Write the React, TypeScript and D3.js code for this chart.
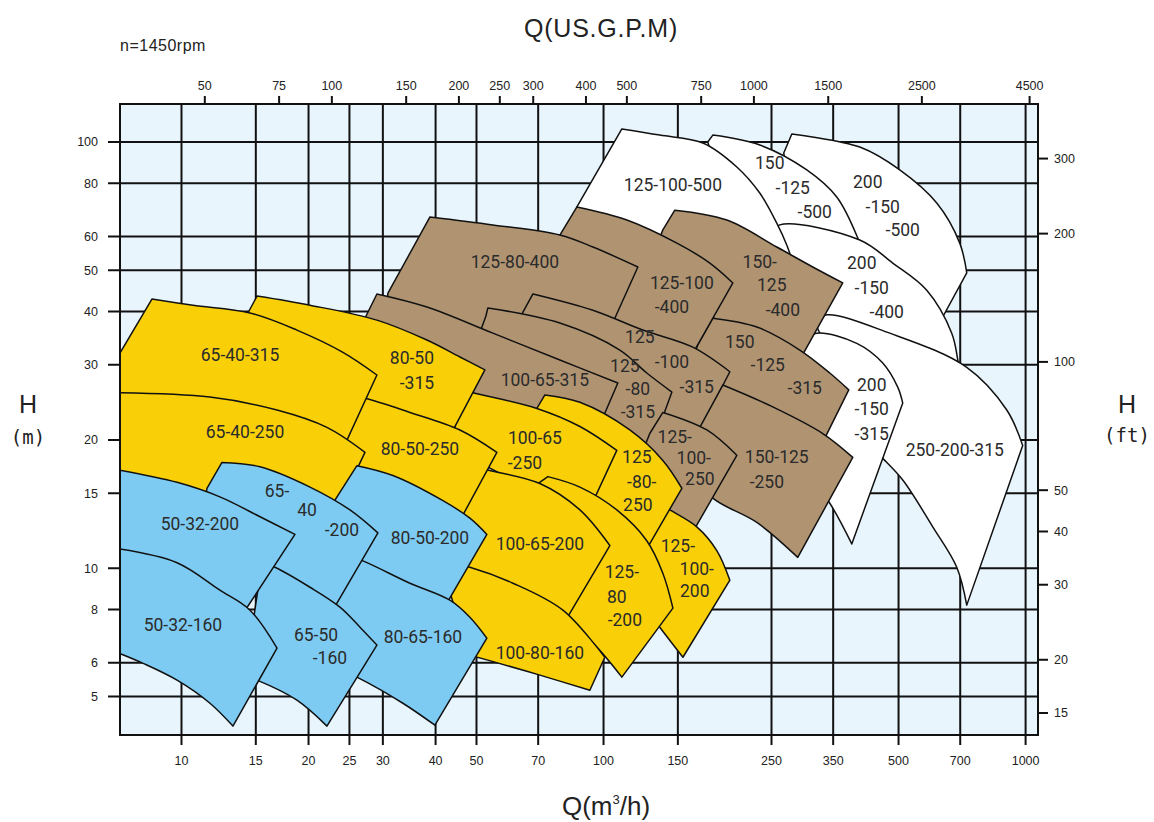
import * as d3 from "d3";

// pump performance chart, n=1450rpm, log-log
const Q_TICKS = [10, 15, 20, 25, 30, 40, 50, 70, 100, 150, 250, 350, 500, 700, 1000];
const GPM_TICKS = [50, 75, 100, 150, 200, 250, 300, 400, 500, 750, 1000, 1500, 2500, 4500];
const H_TICKS = [5, 6, 8, 10, 15, 20, 30, 40, 50, 60, 80, 100];
const FT_TICKS = [15, 20, 30, 40, 50, 100, 200, 300];

const GPM_PER_M3H = 4.4029;
const FT_PER_M = 3.2808;
const Q_RANGE: [number, number] = [7.15, 1070];
const H_RANGE: [number, number] = [4.06, 122.8];

type Pt = [number, number];
interface Pump {
  name: string;
  edge: Pt[]; // bottom-left up to top-left
  top: Pt[]; // top-left to nose (max diameter curve)
  bot: Pt[]; // bottom corner back to bottom-left
  lines: string[];
  at: Pt[];
}

// [Q m3/h, H m]
const WHITE_PUMPS: Pump[] = [
  {
    name: "200-150-500",
    edge: [[276.3, 77.2], [267.3, 94.2], [279.3, 104.4]],
    top: [[279.3, 104.4], [404.7, 97.3], [503.3, 86.0], [615.9, 71.9], [698.2, 57.9], [725.4, 49.3]],
    bot: [[602.6, 35.2], [427.3, 51.4], [276.3, 77.2]],
    lines: ["200", "-150", "-500"],
    at: [[422.7, 80.5], [458.7, 70.4], [511.6, 62.2]],
  },
  {
    name: "150-125-500",
    edge: [[183.5, 88.3], [176.6, 100.0], [181.5, 103.8]],
    top: [[181.5, 103.8], [234.5, 98.4], [303.1, 86.0], [356.9, 74.3], [400.3, 59.5], [422.7, 50.6]],
    bot: [[372.8, 44.9], [254.5, 56.4], [183.5, 88.3]],
    lines: ["150", "-125", "-500"],
    at: [[247.7, 89.3], [280.8, 78.0], [316.6, 68.5]],
  },
  {
    name: "200-150-400",
    edge: [[276.3, 42.6], [247.7, 59.8]],
    top: [[247.7, 59.8], [261.5, 63.9], [404.7, 58.9], [484.4, 52.0], [583.2, 44.9], [668.3, 35.6], [690.6, 30.8], [705.9, 25.9]],
    bot: [[503.3, 30.5], [343.6, 35.8], [276.3, 42.6]],
    lines: ["200", "-150", "-400"],
    at: [[409.1, 52.0], [432.0, 45.4], [468.8, 39.9]],
  },
  {
    name: "250-200-315",
    edge: [[427.3, 19.4], [316.6, 37.8]],
    top: [[316.6, 37.8], [338.0, 39.3], [476.5, 35.6], [725.4, 29.6], [902.4, 23.5], [984.3, 19.4]],
    bot: [[725.4, 8.19], [686.9, 10.05], [602.6, 12.5], [511.6, 16.1], [458.7, 18.1], [427.3, 19.4]],
    lines: ["250-200-315"],
    at: [[679.4, 18.9]],
  },
  {
    name: "200-150-315",
    edge: [[308.1, 16.3], [291.7, 33.9]],
    top: [[291.7, 33.9], [320.0, 35.6], [398.1, 33.7], [458.7, 30.3], [497.8, 26.6], [511.6, 24.4]],
    bot: [[387.4, 11.4], [343.6, 14.2], [308.1, 16.3]],
    lines: ["200", "-150", "-315"],
    at: [[432.0, 26.9], [432.0, 23.6], [432.0, 20.7]],
  },
  {
    name: "125-100-500",
    edge: [[100.7, 60.5], [86.48, 70.4], [110.5, 107.3]],
    top: [[110.5, 107.3], [135.9, 103.8], [171.9, 99.5], [206.9, 87.4], [234.5, 75.9], [257.3, 64.5], [271.7, 57.3], [287.0, 48.7]],
    bot: [[188.6, 46.9], [121.9, 55.8], [100.7, 60.5]],
    lines: ["125-100-500"],
    at: [[146.0, 79.3]],
  },
];

const BROWN_PUMPS: Pump[] = [
  {
    name: "150-125-400",
    edge: [[132.3, 55.8], [138.2, 62.2], [147.5, 69.2]],
    top: [[147.5, 69.2], [196.0, 65.6], [257.3, 56.7], [313.1, 50.9], [368.8, 46.7]],
    bot: [[291.7, 30.8], [210.3, 33.4], [169.1, 42.6], [132.3, 55.8]],
    lines: ["150-", "125", "-400"],
    at: [[234.5, 52.3], [250.4, 46.2], [265.9, 40.3]],
  },
  {
    name: "150-125-315",
    edge: [[160.1, 30.0], [167.2, 33.4], [181.5, 38.6]],
    top: [[181.5, 38.6], [230.8, 36.8], [291.7, 32.5], [343.6, 28.7], [381.1, 26.2]],
    bot: [[325.3, 19.1], [247.7, 22.0], [178.6, 25.1], [160.1, 30.0]],
    lines: ["150", "-125", "-315"],
    at: [[210.3, 33.9], [245.0, 30.0], [299.8, 26.5]],
  },
  {
    name: "125-100-400",
    edge: [[74.62, 52.3], [78.8, 60.5], [86.48, 70.4]],
    top: [[86.48, 70.4], [113.6, 65.6], [149.2, 57.9], [178.6, 52.0], [202.5, 46.7]],
    bot: [[161.9, 31.6], [115.4, 34.3], [87.9, 42.6], [74.62, 52.3]],
    lines: ["125-100", "-400"],
    at: [[153.3, 46.7], [145.2, 41.0]],
  },
  {
    name: "125-80-400",
    edge: [[30.34, 37.8], [30.84, 44.2], [38.79, 66.7]],
    top: [[38.79, 66.7], [54.67, 63.9], [78.8, 60.5], [94.34, 56.7], [120.6, 50.9]],
    bot: [[104.6, 37.2], [70.66, 36.6], [48.23, 33.9], [30.34, 37.8]],
    lines: ["125-80-400"],
    at: [[61.65, 52.3]],
  },
  {
    name: "125-100-315",
    edge: [[61.65, 36.6], [64.42, 39.9], [68.03, 44.0]],
    top: [[68.03, 44.0], [94.34, 40.3], [123.9, 36.2], [162.7, 33.0], [199.2, 28.9]],
    bot: [[164.5, 20.0], [121.9, 22.3], [78.8, 30.8], [61.65, 36.6]],
    lines: ["125", "-100", "-315"],
    at: [[121.9, 34.9], [145.2, 30.5], [166.3, 26.7]],
  },
  {
    name: "125-80-315",
    edge: [[50.38, 34.7], [52.62, 39.0], [53.2, 40.8]],
    top: [[53.2, 40.8], [78.8, 37.6], [109.3, 32.5], [126.6, 28.7], [145.2, 25.9]],
    bot: [[127.3, 18.1], [98.0, 21.1], [70.66, 24.8], [53.78, 33.9], [50.38, 34.7]],
    lines: ["125", "-80", "-315"],
    at: [[112.3, 29.8], [120.6, 26.3], [120.6, 23.3]],
  },
  {
    name: "100-65-315",
    edge: [[26.48, 34.3], [27.35, 39.0], [29.04, 44.0]],
    top: [[29.04, 44.0], [38.15, 41.0], [54.67, 35.6], [78.8, 30.8], [108.1, 27.2]],
    bot: [[98.0, 21.7], [70.66, 22.0], [46.93, 23.7], [32.92, 30.0], [26.48, 34.3]],
    lines: ["100-65-315"],
    at: [[72.61, 27.6]],
  },
  {
    name: "150-125-250",
    edge: [[160.1, 17.0], [169.1, 21.4], [191.7, 26.9]],
    top: [[191.7, 26.9], [251.8, 23.9], [330.7, 20.7], [389.5, 18.2]],
    bot: [[288.5, 10.6], [230.8, 12.8], [181.5, 14.6], [160.1, 17.0]],
    lines: ["150-125", "-250"],
    at: [[257.3, 18.2], [243.7, 15.9]],
  },
  {
    name: "125-100-250",
    edge: [[121.9, 18.1], [128.7, 20.7], [138.2, 23.2]],
    top: [[138.2, 23.2], [175.7, 21.1], [206.9, 18.4]],
    bot: [[158.4, 11.6], [135.9, 14.4], [125.3, 17.0], [121.9, 18.1]],
    lines: ["125-", "100-", "250"],
    at: [[147.5, 20.3], [163.6, 18.1], [169.1, 16.2]],
  },
];

const YELLOW_PUMPS: Pump[] = [
  {
    name: "125-100-200",
    edge: [[121.9, 8.41], [132.3, 14.4]],
    top: [[132.3, 14.4], [143.6, 13.7], [166.3, 12.5], [185.5, 11.0], [199.2, 9.37]],
    bot: [[154.2, 6.18], [135.9, 7.27], [121.9, 8.41]],
    lines: ["125-", "100-", "200"],
    at: [[150.0, 11.26], [166.3, 9.95], [164.5, 8.83]],
  },
  {
    name: "125-80-250",
    edge: [[65.13, 20.5], [69.51, 23.7], [72.61, 25.5]],
    top: [[72.61, 25.5], [87.9, 24.5], [115.4, 21.1], [138.2, 17.9], [153.3, 15.4]],
    bot: [[121.9, 10.4], [98.0, 13.0], [78.8, 15.9], [65.13, 20.5]],
    lines: ["125", "-80-", "250"],
    at: [[119.9, 18.2], [123.2, 15.9], [120.6, 14.1]],
  },
  {
    name: "100-65-250",
    edge: [[44.44, 19.8], [44.44, 26.5]],
    top: [[44.44, 26.5], [49.03, 25.8], [69.51, 23.7], [87.9, 21.5], [107.5, 18.9]],
    bot: [[91.81, 13.5], [70.66, 15.1], [50.93, 17.7], [44.44, 19.8]],
    lines: ["100-65", "-250"],
    at: [[68.77, 20.2], [65.13, 17.7]],
  },
  {
    name: "125-80-200",
    edge: [[65.13, 13.0], [69.89, 15.8], [73.81, 16.4]],
    top: [[73.81, 16.4], [87.9, 15.5], [107.5, 13.7], [126.6, 11.6], [138.2, 9.73], [146.0, 8.06]],
    bot: [[110.5, 5.55], [92.81, 6.78], [74.62, 7.97], [65.13, 13.0]],
    lines: ["125-", "80", "-200"],
    at: [[110.5, 9.79], [107.5, 8.55], [112.3, 7.55]],
  },
  {
    name: "100-65-200",
    edge: [[43.25, 10.4], [45.67, 17.7]],
    top: [[45.67, 17.7], [53.2, 17.0], [70.66, 15.8], [87.9, 13.7], [103.5, 11.3]],
    bot: [[80.1, 7.35], [63.36, 8.41], [49.6, 9.12], [43.25, 10.4]],
    lines: ["100-65-200"],
    at: [[70.66, 11.4]],
  },
  {
    name: "100-80-160",
    edge: [[48.23, 6.25], [40.96, 10.4]],
    top: [[40.96, 10.4], [48.23, 10.05], [60.98, 9.22], [80.1, 7.97], [100.7, 6.18]],
    bot: [[92.81, 5.17], [70.66, 5.61], [55.26, 6.02], [48.23, 6.25]],
    lines: ["100-80-160"],
    at: [[70.66, 6.32]],
  },
  {
    name: "80-50-315",
    edge: [[13.03, 30.0], [14.37, 39.7], [15.1, 43.5]],
    top: [[15.1, 43.5], [20.16, 41.4], [29.04, 38.2], [38.15, 34.3], [45.67, 31.3], [52.34, 29.2]],
    bot: [[42.78, 20.0], [32.92, 22.5], [23.74, 25.1], [13.03, 30.0]],
    lines: ["80-50", "-315"],
    at: [[35.16, 31.1], [36.13, 27.2]],
  },
  {
    name: "80-50-250",
    edge: [[23.74, 16.1], [22.48, 25.9]],
    top: [[22.48, 25.9], [26.91, 25.1], [34.77, 23.2], [45.67, 21.1], [55.88, 18.7]],
    bot: [[44.44, 12.3], [32.92, 14.8], [23.74, 16.1]],
    lines: ["80-50-250"],
    at: [[36.72, 19.1]],
  },
  {
    name: "65-40-315",
    edge: [[7.1, 24.1], [7.1, 31.6], [8.51, 42.8]],
    top: [[8.51, 42.8], [10.65, 41.4], [14.53, 39.7], [18.77, 36.2], [24.13, 32.1], [29.04, 28.4]],
    bot: [[23.74, 18.4], [14.53, 22.3], [9.92, 24.1], [7.1, 24.1]],
    lines: ["65-40-315"],
    at: [[13.76, 31.6]],
  },
  {
    name: "65-40-250",
    edge: [[7.1, 15.9], [7.1, 25.8]],
    top: [[7.1, 25.8], [11.68, 25.2], [16.84, 23.5], [22.11, 21.4], [27.21, 18.7]],
    bot: [[23.1, 13.3], [15.35, 15.1], [11.06, 14.4], [7.1, 15.9]],
    lines: ["65-40-250"],
    at: [[14.14, 20.9]],
  },
];

const BLUE_PUMPS: Pump[] = [
  {
    name: "80-50-200",
    edge: [[20.83, 12.3], [26.04, 17.4]],
    top: [[26.04, 17.4], [31.69, 16.5], [41.64, 14.4], [48.23, 13.1], [52.91, 12.0]],
    bot: [[40.96, 7.76], [31.18, 8.88], [20.83, 12.3]],
    lines: ["80-50-200"],
    at: [[38.79, 11.8]],
  },
  {
    name: "80-65-160",
    edge: [[22.48, 5.92], [22.48, 11.1]],
    top: [[22.48, 11.1], [26.91, 10.4], [34.77, 9.22], [43.25, 8.41], [48.23, 7.67], [52.91, 6.85]],
    bot: [[39.85, 4.28], [33.46, 4.82], [26.04, 5.55], [22.48, 5.92]],
    lines: ["80-65-160"],
    at: [[37.33, 6.89]],
  },
  {
    name: "65-40-200",
    edge: [[11.06, 11.6], [11.49, 15.4], [12.47, 17.7]],
    top: [[12.47, 17.7], [15.35, 17.3], [20.16, 15.5], [25.07, 13.7], [29.2, 12.1]],
    bot: [[22.48, 7.76], [15.35, 9.63], [11.06, 11.6]],
    lines: ["65-", "40", "-200"],
    at: [[16.84, 15.2], [19.83, 13.7], [24.0, 12.3]],
  },
  {
    name: "65-50-160",
    edge: [[14.14, 5.58], [15.51, 10.3]],
    top: [[15.51, 10.3], [16.65, 10.05], [20.16, 9.02], [23.74, 8.1], [26.48, 7.27], [29.04, 6.6]],
    bot: [[22.11, 4.26], [18.77, 4.9], [15.1, 5.46], [14.14, 5.58]],
    lines: ["65-50", "-160"],
    at: [[20.83, 6.96], [22.48, 6.15]],
  },
  {
    name: "50-32-200",
    edge: [[7.1, 10.6], [7.1, 17.0]],
    top: [[7.1, 17.0], [9.76, 15.9], [12.33, 14.7], [15.35, 13.2], [18.57, 12.0]],
    bot: [[13.76, 7.63], [12.0, 8.55], [9.76, 9.68], [7.1, 10.6]],
    lines: ["50-32-200"],
    at: [[11.06, 12.7]],
  },
  {
    name: "50-32-160",
    edge: [[7.1, 6.32], [7.1, 11.1]],
    top: [[7.1, 11.1], [9.76, 10.3], [12.33, 8.88], [14.53, 7.97], [16.84, 6.49]],
    bot: [[13.24, 4.26], [11.68, 4.82], [9.76, 5.46], [8.11, 5.98], [7.1, 6.32]],
    lines: ["50-32-160"],
    at: [[10.08, 7.35]],
  },
];

const GROUPS: { fill: string; pumps: Pump[] }[] = [
  { fill: "#ffffff", pumps: WHITE_PUMPS },
  { fill: "#b09472", pumps: BROWN_PUMPS },
  { fill: "#f9d008", pumps: YELLOW_PUMPS },
  { fill: "#7dcbf2", pumps: BLUE_PUMPS },
];

export default function App() {
  const W = 1154;
  const Hh = 822;
  const m = { left: 120, right: 1038, top: 104, bottom: 735 };

  const x = d3.scaleLog().domain(Q_RANGE).range([m.left, m.right]);
  const y = d3.scaleLog().domain(H_RANGE).range([m.bottom, m.top]);
  const xg = d3.scaleLog().domain(Q_RANGE.map((v) => v * GPM_PER_M3H)).range([m.left, m.right]);
  const yf = d3.scaleLog().domain(H_RANGE.map((v) => v * FT_PER_M)).range([m.bottom, m.top]);

  const smooth = d3
    .line<Pt>()
    .x((d) => x(d[0]))
    .y((d) => y(d[1]))
    .curve(d3.curveCatmullRom.alpha(0.5));
  const straight = d3
    .line<Pt>()
    .x((d) => x(d[0]))
    .y((d) => y(d[1]));

  const outline = (p: Pump) =>
    straight(p.edge)! +
    smooth(p.top)!.replace(/^M/, "L") +
    smooth(p.bot)!.replace(/^M/, "L") +
    "Z";

  const axisFont = "'Liberation Sans', Arial, sans-serif";
  const labelFont = "Roboto, 'Open Sans', sans-serif";

  return (
    <svg
      width={W}
      height={Hh}
      style={{ position: "absolute", left: 0, top: 0, background: "#fff" }}
    >
      <defs>
        <clipPath id="plot">
          <rect x={m.left} y={m.top} width={m.right - m.left} height={m.bottom - m.top} />
        </clipPath>
      </defs>

      <rect x={m.left} y={m.top} width={m.right - m.left} height={m.bottom - m.top} fill="#e9f5fd" />

      {/* grid + ticks */}
      <g stroke="#111" strokeWidth={2}>
        {Q_TICKS.map((q) => (
          <line key={"vq" + q} x1={x(q)} x2={x(q)} y1={m.top} y2={m.bottom + 10} />
        ))}
        {H_TICKS.map((h) => (
          <line key={"hh" + h} x1={m.left - 12} x2={m.right} y1={y(h)} y2={y(h)} />
        ))}
        {GPM_TICKS.map((g) => (
          <line key={"tg" + g} x1={xg(g)} x2={xg(g)} y1={m.top} y2={m.top - 8} />
        ))}
        {FT_TICKS.map((f) => (
          <line key={"rf" + f} x1={m.right} x2={m.right + 10} y1={yf(f)} y2={yf(f)} />
        ))}
      </g>

      {/* pump ranges */}
      <g clipPath="url(#plot)" stroke="#111" strokeWidth={1.5} strokeLinejoin="round">
        {GROUPS.map((g, gi) => (
          <g key={gi} fill={g.fill}>
            {g.pumps.map((p) => (
              <path key={p.name} d={outline(p)} />
            ))}
          </g>
        ))}
      </g>

      <rect
        x={m.left}
        y={m.top}
        width={m.right - m.left}
        height={m.bottom - m.top}
        fill="none"
        stroke="#111"
        strokeWidth={2}
      />

      {/* pump labels */}
      <g fontFamily={labelFont} fontSize={17.5} fill="#2b2b2b" textAnchor="middle">
        {GROUPS.flatMap((g) =>
          g.pumps.flatMap((p) =>
            p.lines.map((t, i) => (
              <text key={p.name + i} x={x(p.at[i][0])} y={y(p.at[i][1])} dy="0.35em">
                {t}
              </text>
            ))
          )
        )}
      </g>

      {/* tick labels */}
      <g fontFamily={axisFont} fontSize={12.5} fill="#222">
        {Q_TICKS.map((q) => (
          <text key={"lq" + q} x={x(q)} y={765} textAnchor="middle">
            {q}
          </text>
        ))}
        {GPM_TICKS.map((g) => (
          <text key={"lg" + g} x={xg(g)} y={90} textAnchor="middle">
            {g}
          </text>
        ))}
        {H_TICKS.map((h) => (
          <text key={"lh" + h} x={98} y={y(h)} dy="0.35em" textAnchor="end">
            {h}
          </text>
        ))}
        {FT_TICKS.map((f) => (
          <text key={"lf" + f} x={1054} y={yf(f)} dy="0.35em" textAnchor="start">
            {f}
          </text>
        ))}
      </g>

      {/* titles */}
      <g fontFamily={axisFont} fill="#222">
        <text x={601} y={37} fontSize={25} letterSpacing={0.8} textAnchor="middle">
          Q(US.G.P.M)
        </text>
        <text x={120} y={51} fontSize={16} letterSpacing={0.5}>
          n=1450rpm
        </text>
        <text x={606} y={815} fontSize={26} textAnchor="middle">
          Q(m
          <tspan fontSize={13} dy={-11}>
            3
          </tspan>
          <tspan dy={11}>/h)</tspan>
        </text>
        <text x={28} y={413} fontSize={25} textAnchor="middle">
          H
        </text>
        <text x={1127} y={413} fontSize={25} textAnchor="middle">
          H
        </text>
      </g>
      <g fontFamily="'DejaVu Sans Mono', monospace" fill="#222" fontSize={19} textAnchor="middle">
        <text x={28} y={444}>(m)</text>
        <text x={1127} y={442}>(ft)</text>
      </g>
    </svg>
  );
}
